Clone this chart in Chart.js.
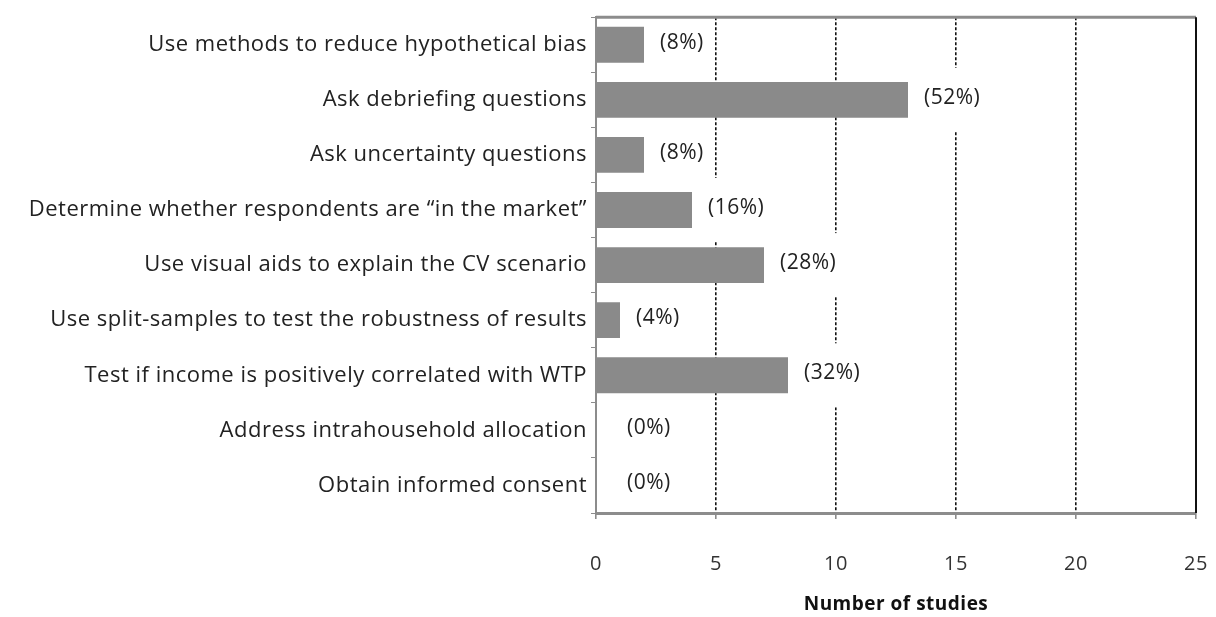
<!DOCTYPE html>
<html>
<head>
<meta charset="utf-8">
<script src="https://cdn.jsdelivr.net/npm/chart.js@4.4.0/dist/chart.umd.min.js"></script>
<style>
  html, body { margin: 0; padding: 0; background: #fff; }
  #wrap { width: 1216px; height: 617px; }
</style>
</head>
<body>
<div id="wrap"><canvas id="chart" width="1216" height="617"></canvas></div>
<script>
const categories = [
  "Use methods to reduce hypothetical bias",
  "Ask debriefing questions",
  "Ask uncertainty questions",
  "Determine whether respondents are \u201cin the market\u201d",
  "Use visual aids to explain the CV scenario",
  "Use split-samples to test the robustness of results",
  "Test if income is positively correlated with WTP",
  "Address intrahousehold allocation",
  "Obtain informed consent"
];
const studies = [2, 13, 2, 4, 7, 1, 8, 0, 0];
const shares = ["(8%)", "(52%)", "(8%)", "(16%)", "(28%)", "(4%)", "(32%)", "(0%)", "(0%)"];
const xTicks = [0, 5, 10, 15, 20, 25];

const FONT = "'Open Sans', Lato, sans-serif";

// slightly wider text, like the original
const spacing = {
  id: 'spacing',
  beforeUpdate(chart) { chart.ctx.letterSpacing = '0.5px'; },
  beforeDraw(chart) { chart.ctx.letterSpacing = '0.5px'; }
};

// percent labels after each bar, on a white box that hides the grid
const shareLabels = {
  id: 'shareLabels',
  afterDatasetsDraw(chart) {
    const ctx = chart.ctx;
    const a = chart.chartArea;
    const meta = chart.getDatasetMeta(0);
    ctx.save();
    ctx.beginPath();
    ctx.rect(a.left + 2, a.top + 2, a.right - a.left - 4, a.bottom - a.top - 4);
    ctx.clip();
    ctx.font = "21px " + FONT;
    ctx.textBaseline = 'middle';
    ctx.textAlign = 'left';
    meta.data.forEach((bar, i) => {
      const off = studies[i] === 0 ? 31 : 16;
      const x = bar.x + off;
      const w = ctx.measureText(shares[i]).width;
      ctx.fillStyle = '#fff';
      ctx.fillRect(x - 5, bar.y - 32, w + 8, 64);
      ctx.fillStyle = '#222';
      ctx.fillText(shares[i], x, bar.y - 2);
    });
    ctx.restore();
  }
};

// top (gray) and right (black) frame lines
const frame = {
  id: 'frame',
  afterDraw(chart) {
    const { ctx, chartArea: a } = chart;
    ctx.save();
    ctx.strokeStyle = '#8c8c8c';
    ctx.lineWidth = 3;
    ctx.beginPath();
    ctx.moveTo(a.left, a.top);
    ctx.lineTo(a.right, a.top);
    ctx.stroke();
    ctx.strokeStyle = '#111';
    ctx.lineWidth = 2;
    ctx.beginPath();
    ctx.moveTo(a.right, a.top);
    ctx.lineTo(a.right, a.bottom);
    ctx.stroke();
    ctx.restore();
  }
};

new Chart(document.getElementById('chart').getContext('2d'), {
  type: 'bar',
  data: {
    labels: categories,
    datasets: [{
      data: studies,
      backgroundColor: '#8a8a8a',
      borderWidth: 0,
      categoryPercentage: 0.65,
      barPercentage: 1.0
    }]
  },
  options: {
    indexAxis: 'y',
    responsive: false,
    animation: false,
    layout: { padding: { top: 8, right: 20, left: 0, bottom: 0 } },
    plugins: { legend: { display: false }, tooltip: { enabled: false } },
    scales: {
      x: {
        min: 0, max: 25,
        afterBuildTicks: s => { s.ticks = xTicks.map(v => ({ value: v })); },
        afterFit: s => { s.height = 104; s.paddingLeft = 0; s.paddingRight = 0; },
        grid: {
          color: c => (c.tick && (c.tick.value === 0 || c.tick.value === 25)) ? 'rgba(0,0,0,0)' : '#111',
          lineWidth: 1.6,
          tickColor: '#8c8c8c',
          tickLength: 6,
          drawTicks: true
        },
        border: { display: true, color: '#8c8c8c', width: 3, dash: [3, 2] },
        ticks: { color: '#333', font: { family: FONT, size: 20 }, padding: 33, maxRotation: 0 },
        title: {
          display: true,
          text: 'Number of studies',
          color: '#111',
          font: { family: FONT, size: 19, weight: 'bold' },
          padding: { top: 12, bottom: 1 }
        }
      },
      y: {
        afterFit: s => { s.width = 596; },
        grid: {
          drawOnChartArea: false,
          drawTicks: true,
          tickLength: 5,
          color: '#8c8c8c',
          offset: true
        },
        border: { display: true, color: '#8c8c8c', width: 2 },
        ticks: { color: '#222', font: { family: FONT, size: 22 }, padding: 4 }
      }
    }
  },
  plugins: [spacing, shareLabels, frame]
});
</script>
</body>
</html>
